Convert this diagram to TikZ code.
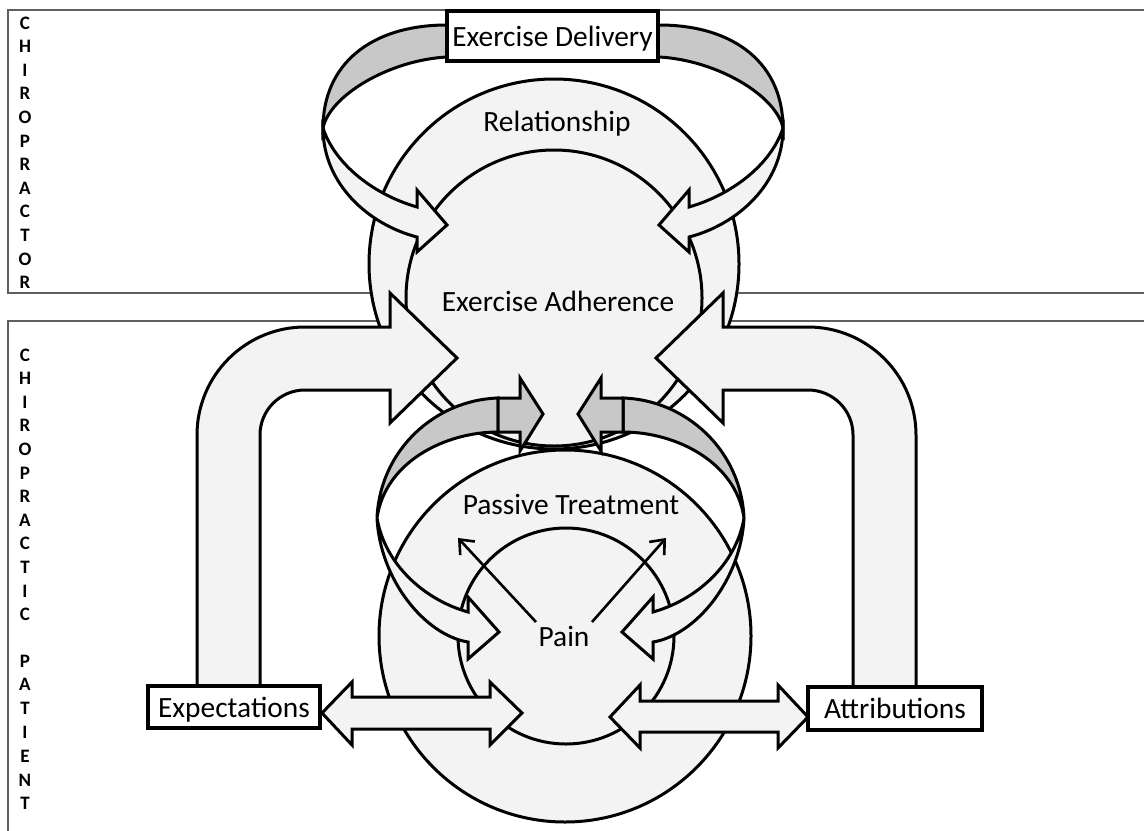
\documentclass[tikz,border=0pt]{standalone}
\usepackage{fontspec}
\setmainfont{Carlito}
\usetikzlibrary{arrows.meta}
\definecolor{lightfill}{RGB}{243,243,243}
\definecolor{bandgray}{RGB}{200,200,200}
\definecolor{framegray}{RGB}{95,95,95}
\begin{document}
\begin{tikzpicture}[x=0.5pt,y=-0.5pt,
  frameline/.style={draw=framegray, line width=0.8pt},
  lightpart/.style={draw=black, line width=1.5pt, fill=lightfill},
  graypart/.style={draw=black, line width=1.5pt, fill=bandgray},
  boxst/.style={draw=black, line width=2pt, fill=white, inner sep=0pt, text depth=0pt, font=\fontsize{14.7}{17}\selectfont},
  lbl/.style={inner sep=1pt, font=\fontsize{14.7}{17}\selectfont},
  sidel/.style={inner sep=0pt, font=\fontsize{9.5}{10}\selectfont\bfseries},
  painarrow/.style={draw=black, line width=1.3pt, -{Straight Barb[length=6pt, width=10pt]}}
]
\useasboundingbox (0,0) rectangle (1144,830);
\fill[white] (0,0) rectangle (1144,830);

% frames
\draw[frameline] (8,10) rectangle (1170,293);
\draw[frameline] (8,321) rectangle (1170,860);

% side labels
\foreach \ch [count=\i] in {C,H,I,R,O,P,R,A,C,T,O,R}
  \node[sidel] (top\i) at (25,{23+23.6*(\i-1)}) {\ch};
\foreach \ch [count=\i] in {C,H,I,R,O,P,R,A,C,T,I,C}
  \node[sidel] (chp\i) at (25,{355+23.6*(\i-1)}) {\ch};
\foreach \ch [count=\i] in {P,A,T,I,E,N,T}
  \node[sidel] (pat\i) at (25,{661+23.8*(\i-1)}) {\ch};

% circles
\draw[lightpart] (554,264) circle[radius=185];
\draw[lightpart] (554,298) circle[radius=148];
\draw[lightpart] (565,636) circle[radius=186];
\draw[lightpart] (566,636) circle[radius=108];

% L-shaped arrows
\draw[lightpart] (197,690) -- (197,435) .. controls (197,375.4) and (245.4,327) .. (305,327)
  -- (390,327) -- (390,293) -- (457,358) -- (390,423) -- (390,390) -- (305,390)
  .. controls (280.1,390) and (260,410.1) .. (260,435) -- (260,690) -- cycle;
\draw[lightpart] (916,690) -- (916,435) .. controls (916,375.4) and (867.6,327) .. (808,327)
  -- (723,327) -- (723,293) -- (656,358) -- (723,423) -- (723,390) -- (808,390)
  .. controls (832.9,390) and (853,410.1) .. (853,435) -- (853,690) -- cycle;

% top ring arrows
\draw[graypart] (455,25) -- (447,25) .. controls (370,25) and (323,65) .. (323,128)
  .. controls (330,95) and (390,60) .. (447,57) -- (455,57) -- cycle;
\draw[lightpart] (323,128) .. controls (323,185) and (370,225) .. (417,237) -- (417,252)
  -- (447,225) -- (417,190) -- (417,207) .. controls (375,195) and (335,165) .. (323,128) -- cycle;
\draw[graypart] (651,25) -- (659,25) .. controls (736,25) and (783,65) .. (783,128)
  .. controls (776,95) and (716,60) .. (659,57) -- (651,57) -- cycle;
\draw[lightpart] (783,128) .. controls (783,185) and (736,225) .. (689,237) -- (689,252)
  -- (659,225) -- (689,190) -- (689,207) .. controls (731,195) and (771,165) .. (783,128) -- cycle;

% lower ring arrows
\draw[graypart] (377,518) .. controls (380,450) and (435,400) .. (498,398) -- (498,432)
  .. controls (445,432) and (385,462) .. (377,518) -- cycle;
\draw[graypart] (498,398) -- (520,398) -- (520,378) -- (543,414) -- (520,451) -- (520,432) -- (498,432) -- cycle;
\draw[lightpart] (377,518) .. controls (380,580) and (425,635) .. (468,642) -- (468,659)
  -- (499,632) -- (468,597) -- (468,612) .. controls (425,600) and (385,565) .. (377,518) -- cycle;
\draw[graypart] (744,518) .. controls (741,450) and (686,400) .. (623,398) -- (623,432)
  .. controls (676,432) and (736,462) .. (744,518) -- cycle;
\draw[graypart] (623,398) -- (601,398) -- (601,378) -- (578,414) -- (601,451) -- (601,432) -- (623,432) -- cycle;
\draw[lightpart] (744,518) .. controls (741,580) and (696,635) .. (653,642) -- (653,659)
  -- (622,632) -- (653,597) -- (653,612) .. controls (696,600) and (736,565) .. (744,518) -- cycle;

% double arrows
\draw[lightpart] (322,713) -- (352,682) -- (352,697) -- (490,697) -- (490,682) -- (522,713)
  -- (490,745) -- (490,729) -- (352,729) -- (352,745) -- cycle;
\draw[lightpart] (610,717) -- (640,685) -- (640,701) -- (778,701) -- (778,685) -- (808,717)
  -- (778,748) -- (778,732) -- (640,732) -- (640,748) -- cycle;

% boxes
\node[boxst, minimum width=105.5pt, minimum height=25pt] (delivery) at (552.5,36) {Exercise Delivery};
\node[boxst, minimum width=86pt, minimum height=21pt] (expect) at (234,707) {Expectations};
\node[boxst, minimum width=87pt, minimum height=21.5pt] (attrib) at (895,708.5) {Attributions};

% labels
\node[lbl] (rel) at (557,124) {Relationship};
\node[lbl] (adh) at (558,301) {Exercise Adherence};
\node[lbl] (pas) at (571,504) {Passive Treatment};
\node[lbl] (pain) at (564,636) {Pain};

% pain arrows
\coordinate (plA) at (536,622);
\coordinate (plB) at (458,538);
\coordinate (prA) at (592,622);
\coordinate (prB) at (666,538);
\draw[painarrow] (plA) -- (plB);
\draw[painarrow] (prA) -- (prB);
\end{tikzpicture}
\end{document}
